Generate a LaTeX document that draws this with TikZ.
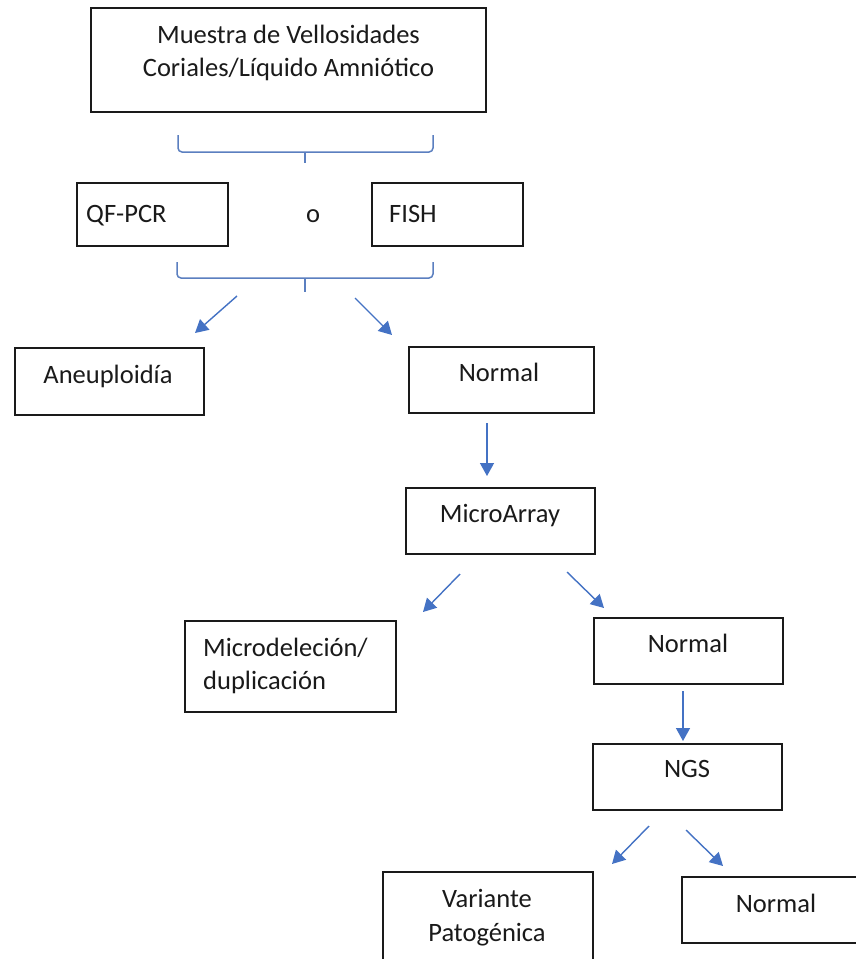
\documentclass[tikz,border=0pt]{standalone}
\usepackage{fontspec}
\setmainfont{Carlito}
\usetikzlibrary{arrows.meta}
\definecolor{arrowblue}{HTML}{4472C4}
\definecolor{braceblue}{HTML}{5B7FC0}
\definecolor{ink}{HTML}{1A1A1A}
\begin{document}
\begin{tikzpicture}[x=1pt,y=-1pt,
  box/.style={draw=ink, line width=1.8pt, rectangle, inner sep=0pt},
  txt/.style={font=\fontsize{26.5}{33}\selectfont, text=ink, inner sep=0pt, anchor=base},
  ltxt/.style={txt, anchor=base west},
  flow/.style={draw=arrowblue, line width=1.4pt, -{Triangle[length=13pt,width=14pt]}},
  bracket/.style={draw=braceblue, line width=1.5pt, rounded corners=4pt}]
\useasboundingbox (0,0) rectangle (856,959);
\clip (0,0) rectangle (856,959);
\fill[white] (0,0) rectangle (856,959);

% boxes
\node[box, minimum width=395pt, minimum height=104pt] (top) at (288.5,60) {};
\node[box, minimum width=151pt, minimum height=63pt] (qf) at (152.5,214.5) {};
\node[box, minimum width=151pt, minimum height=63pt] (fish) at (447.5,214.5) {};
\node[box, minimum width=189pt, minimum height=67pt] (aneu) at (109.5,381.5) {};
\node[box, minimum width=185pt, minimum height=66pt] (norm1) at (501.5,380) {};
\node[box, minimum width=189pt, minimum height=66pt] (micro) at (500.5,521) {};
\node[box, minimum width=211pt, minimum height=91pt] (mdel) at (290.5,666.5) {};
\node[box, minimum width=189pt, minimum height=66pt] (norm2) at (688.5,651) {};
\node[box, minimum width=189pt, minimum height=66pt] (ngs) at (687.5,777) {};
\node[box, minimum width=210pt, minimum height=108pt] (var) at (488,926) {};
\node[box, minimum width=184pt, minimum height=66pt] (norm3) at (774,910) {};

% texts
\node[txt] (t1a) at (288.5,43) {Muestra de Vellosidades};
\node[txt] (t1b) at (288.5,76) {Coriales/Líquido Amniótico};
\node[ltxt] (tqf) at (86,222) {QF-PCR};
\node[txt] (to) at (313,222) {o};
\node[ltxt] (tfish) at (389,222) {FISH};
\node[txt] (tan) at (108,383) {Aneuploidía};
\node[txt] (tn1) at (499,381) {Normal};
\node[txt] (tmi) at (500,522) {MicroArray};
\node[ltxt] (tmda) at (203,656) {Microdeleción/};
\node[ltxt] (tmdb) at (203,689) {duplicación};
\node[txt] (tn2) at (688,652) {Normal};
\node[txt] (tngs) at (687,777) {NGS};
\node[txt] (tva) at (487,907) {Variante};
\node[txt] (tvb) at (487,941) {Patogénica};
\node[txt] (tn3) at (776,912) {Normal};

% brackets
\draw[bracket] (178,135) -- (178,152) -- (433,152) -- (433,135);
\draw[bracket] (305,152) -- (305,163);
\draw[bracket] (177,262) -- (177,278) -- (433,278) -- (433,262);
\draw[bracket] (305,278) -- (305,292);

% arrow end points
\coordinate (a1s) at (237,296); \coordinate (a1e) at (195,333);
\coordinate (a2s) at (355,298); \coordinate (a2e) at (392,335);
\coordinate (a3s) at (487,423); \coordinate (a3e) at (487,476);
\coordinate (a4s) at (460,574); \coordinate (a4e) at (423,612);
\coordinate (a5s) at (567,572); \coordinate (a5e) at (604,608);
\coordinate (a6s) at (683,691); \coordinate (a6e) at (683,741);
\coordinate (a7s) at (649,826); \coordinate (a7e) at (612,864);
\coordinate (a8s) at (686,830); \coordinate (a8e) at (723,866);

\draw[flow] (a1s) -- (a1e);
\draw[flow] (a2s) -- (a2e);
\draw[flow] (a3s) -- (a3e);
\draw[flow] (a4s) -- (a4e);
\draw[flow] (a5s) -- (a5e);
\draw[flow] (a6s) -- (a6e);
\draw[flow] (a7s) -- (a7e);
\draw[flow] (a8s) -- (a8e);
\end{tikzpicture}
\end{document}
